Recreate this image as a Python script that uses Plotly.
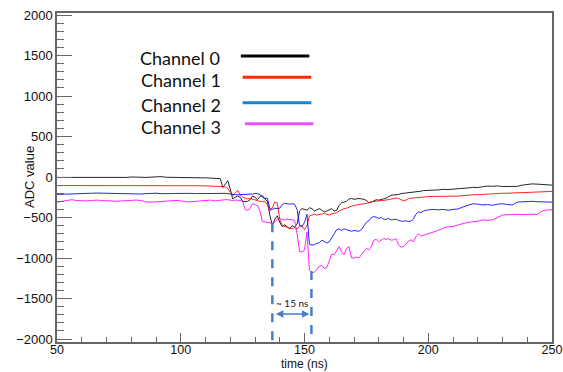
import numpy as np
import plotly.graph_objects as go

# ---- sample times (ns) ----
time_ns = np.concatenate([np.arange(50, 110, 2), np.arange(110, 200, 1), np.arange(200, 251, 2)])

# ---- ADC values ----
ch0 = [-5, -5, -8, -10, -8, -10, -10, -8, -10, -10, -8, -5, -5, -8, -5, 0, 2, -3, -5, 0,
       5, 5, -3, -5, -8, -10, -10, -8, -10, -10,
       -10, -12, -10, -10, -12, -15, -20, -130, -90, -45,
       -150, -270, -250, -235, -250, -300, -305, -300, -280, -235,
       -250, -280, -240, -230, -270, -300, -470, -600, -520, -480,
       -560, -610, -590, -620, -640, -600, -620, -580, -420, -390,
       -400, -410, -380, -390, -420, -400, -390, -410, -430, -420,
       -400, -390, -420, -410, -350, -320, -310, -300, -270, -265,
       -275, -270, -265, -270, -275, -290, -315, -310, -290, -280,
       -285, -280, -270, -260, -240, -225, -222, -220, -215, -205,
       -202, -200, -195, -193, -190, -190, -185, -175, -168, -165,
       -165, -162, -160, -152, -155, -150, -150, -148, -135, -128, -130, -120, -112,
       -115, -110, -118, -115, -112, -115, -100, -88, -85, -88, -95, -100, -100]
ch1 = [-105, -105, -108, -105, -105, -103, -105, -105, -105, -108, -105, -105, -100, -100, -103,
       -105, -105, -105, -100, -100, -102, -105, -105, -105, -105, -108, -108, -105, -105, -108,
       -110, -110, -110, -110, -112, -115, -115, -118, -125, -140,
       -190, -230, -200, -165, -220, -250, -260, -270, -265, -275,
       -280, -290, -300, -305, -300, -340, -420, -380, -310, -320,
       -520, -600, -615, -620, -630, -640, -625, -640, -610, -600,
       -650, -600, -480, -465, -460, -470, -465, -455, -450, -460,
       -470, -455, -445, -440, -420, -400, -390, -385, -370, -365,
       -350, -345, -340, -335, -330, -325, -320, -305, -300, -298,
       -295, -290, -290, -285, -280, -270, -262, -260, -265, -280,
       -295, -285, -265, -262, -258, -255, -250, -248, -245, -245,
       -242, -240, -240, -240, -238, -238, -236, -230, -222, -220, -218, -214, -205,
       -205, -202, -200, -200, -198, -196, -195, -190, -186, -184, -180, -178, -178]
ch2 = [-215, -212, -210, -205, -200, -200, -202, -200, -198, -200, -200, -202, -200, -200, -205,
       -210, -212, -210, -205, -200, -200, -205, -208, -205, -203, -200, -200, -202, -205, -203,
       -202, -200, -200, -202, -202, -200, -200, -202, -202, -205,
       -212, -215, -218, -220, -218, -220, -222, -220, -218, -210,
       -202, -205, -215, -250, -265, -260, -390, -400, -385, -390,
       -385, -340, -325, -330, -335, -330, -335, -400, -600, -610,
       -560, -460, -830, -840, -835, -820, -810, -780, -800, -815,
       -800, -740, -700, -650, -640, -660, -640, -650, -660, -670,
       -660, -665, -670, -650, -600, -560, -540, -500, -490, -495,
       -510, -500, -520, -525, -510, -530, -525, -520, -535, -545,
       -545, -540, -550, -545, -520, -460, -430, -440, -420, -410,
       -405, -400, -405, -400, -410, -400, -395, -370, -345, -330, -335, -345, -340,
       -350, -335, -330, -340, -345, -310, -305, -305, -300, -305, -305, -310, -310]
ch3 = [-310, -300, -285, -280, -290, -295, -295, -290, -285, -290, -295, -300, -300, -295, -290,
       -290, -285, -290, -310, -310, -305, -300, -295, -290, -290, -295, -305, -305, -300, -295,
       -290, -285, -285, -290, -295, -290, -285, -285, -280, -280,
       -285, -290, -285, -282, -288, -300, -400, -410, -390, -330,
       -345, -350, -420, -550, -555, -560, -565, -570, -555, -520,
       -515, -525, -530, -520, -525, -530, -535, -700, -920, -925,
       -900, -680, -1150, -1185, -1175, -1140, -1100, -1090, -1130, -1120,
       -1030, -950, -960, -900, -860, -930, -960, -880, -860, -1000,
       -1000, -990, -1000, -960, -920, -880, -900, -860, -780, -770,
       -800, -780, -760, -770, -760, -780, -775, -760, -840, -865,
       -860, -830, -790, -775, -800, -740, -700, -730, -720, -705,
       -700, -680, -660, -630, -615, -610, -590, -575, -560, -555, -545, -530, -535,
       -530, -495, -470, -465, -460, -460, -465, -460, -460, -462, -420, -405, -405]

channel_names = ["Channel 0", "Channel 1", "Channel 2", "Channel 3"]
trace_colors = ["#000000", "#ff0000", "#0000ff", "#ff00ff"]
legend_colors = ["#000000", "#ff2a00", "#1284d4", "#f050f0"]

# annotation of the time window
t_start, t_end = 137.0, 152.8
dash_top_start, dash_top_end = -570, -1160
arrow_y, label_y = -1690, -1560
arrow_label = "~ 15 ns"

Y_RANGE = [-2037, 2025]
X_RANGE = [50, 250]

fig = go.Figure()
for name, vals, col in zip(channel_names, [ch0, ch1, ch2, ch3], trace_colors):
    fig.add_trace(go.Scatter(x=time_ns, y=vals, mode="lines", name=name,
                             line=dict(color=col, width=1), opacity=0.85,
                             showlegend=False))

dash_col = "#4a7fc6"
fig.add_shape(type="line", xref="x", yref="y", x0=t_start, x1=t_start, y0=dash_top_start, y1=Y_RANGE[0],
              line=dict(color=dash_col, width=2.5, dash="dash"))
fig.add_shape(type="line", xref="x", yref="y", x0=t_end, x1=t_end, y0=dash_top_end, y1=Y_RANGE[0],
              line=dict(color=dash_col, width=2.5, dash="dash"))
fig.add_annotation(x=t_end - 0.8, y=arrow_y, ax=t_start + 0.8, ay=arrow_y, xref="x", yref="y",
                   axref="x", ayref="y", showarrow=True, arrowhead=2, arrowside="end+start",
                   arrowsize=1, arrowwidth=1.5, arrowcolor=dash_col, text="")
fig.add_annotation(x=(t_start + t_end) / 2, y=label_y, xref="x", yref="y", text=arrow_label,
                   showarrow=False, font=dict(family="Lato", size=10, color="#222"))

# legend (text left, line right), paper coordinates
leg_text_x = [0.1636, 0.1650, 0.1650, 0.1650]
leg_text_y = [0.862, 0.795, 0.720, 0.652]
leg_line_x0 = [0.3714, 0.3751, 0.3751, 0.3798]
leg_line_x1 = [0.5098, 0.5138, 0.5138, 0.5178]
leg_line_y = [0.869, 0.805, 0.727, 0.663]
for i in range(4):
    fig.add_annotation(x=leg_text_x[i], y=leg_text_y[i], xref="paper", yref="paper",
                       xanchor="left", yanchor="middle", showarrow=False,
                       text=channel_names[i], font=dict(family="Lato", size=18, color="#111"))
    fig.add_shape(type="line", xref="paper", yref="paper", x0=leg_line_x0[i], x1=leg_line_x1[i],
                  y0=leg_line_y[i], y1=leg_line_y[i], line=dict(color=legend_colors[i], width=3))

# axis titles
fig.add_annotation(x=-0.0747, y=0.50, xref="paper", yref="paper", text="ADC value", textangle=-90,
                   showarrow=False, font=dict(family="Liberation Sans", size=13, color="#111"))
fig.add_annotation(x=0.5, y=-0.0912, xref="paper", yref="paper", text="time (ns)", yanchor="bottom",
                   borderpad=0, showarrow=False,
                   font=dict(family="Liberation Sans", size=12, color="#111"))

axis_col = "#666666"
fig.update_xaxes(range=X_RANGE, tickmode="linear", tick0=50, dtick=50, ticks="inside", ticklen=9,
                 tickcolor=axis_col, showline=True, linecolor=axis_col, linewidth=1.5, mirror=True,
                 showgrid=False, zeroline=False, automargin=False, ticklabelstandoff=-5,
                 minor=dict(dtick=10, ticklen=5, ticks="inside", tickcolor=axis_col),
                 tickfont=dict(family="Liberation Sans", size=12.5, color="#111"))
fig.update_yaxes(range=Y_RANGE, tickmode="linear", tick0=0, dtick=500, ticks="inside", ticklen=15,
                 tickcolor=axis_col, showline=True, linecolor=axis_col, linewidth=1.5, mirror=True,
                 showgrid=False, zeroline=False, automargin=False,
                 minor=dict(dtick=100, ticklen=7, ticks="inside", tickcolor=axis_col),
                 tickfont=dict(family="Liberation Sans", size=13, color="#111"))

fig.update_layout(width=563, height=372, margin=dict(l=57, r=11, t=13, b=30),
                  plot_bgcolor="white", paper_bgcolor="white", showlegend=False)

fig.write_html("out.html")
